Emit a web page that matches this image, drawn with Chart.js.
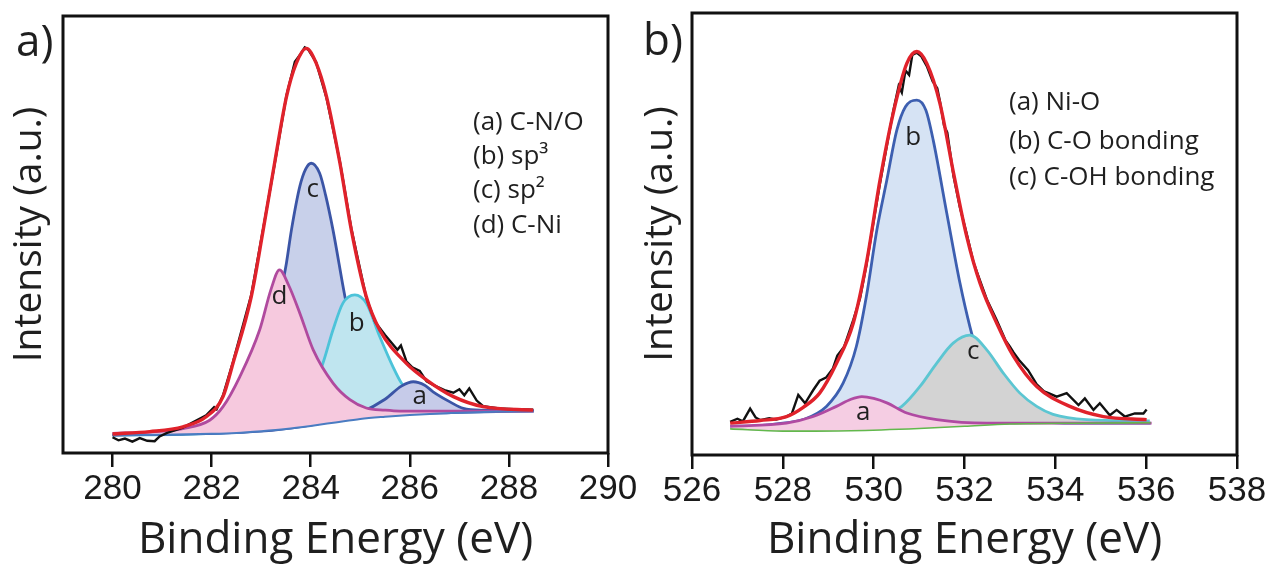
<!DOCTYPE html>
<html>
<head>
<meta charset="utf-8">
<title>XPS C 1s / O 1s</title>
<script src="https://cdn.jsdelivr.net/npm/chart.js@4.4.1/dist/chart.umd.min.js"></script>
<style>
  html, body { margin: 0; padding: 0; background: #fff; }
  #wrap { position: relative; width: 1271px; height: 566px; overflow: hidden; }
  canvas { position: absolute; top: 0; }
  #chartC { left: 0; }
  #chartO { left: 640px; }
</style>
</head>
<body>
<div id="wrap">
  <canvas id="chartC" width="640" height="566"></canvas>
  <canvas id="chartO" width="631" height="566"></canvas>
</div>
<script>
'use strict';

// ---- C 1s (panel a) ----  [binding energy eV, intensity a.u.]
const c1sTicks = [280, 282, 284, 286, 288, 290];
const c1sBackground = [[280.0, 4.1], [281.0, 4.2], [282.0, 4.4], [282.5, 4.6], [283.0, 5.0], [283.5, 5.5],
  [284.0, 6.2], [284.5, 7.0], [285.0, 7.8], [285.5, 8.3], [286.0, 8.7], [286.5, 9.0], [287.0, 9.2],
  [287.5, 9.4], [288.0, 9.5], [288.5, 9.6]];
// (a) C-N/O
const c1sPeakA = [[280.0, 4.1], [283.0, 5.0], [284.0, 6.4], [284.5, 7.5], [285.0, 9.2], [285.5, 12.3],
  [285.83, 15.3], [286.07, 16.3], [286.3, 15.5], [286.47, 14.0], [286.81, 11.7], [287.08, 10.2],
  [287.48, 9.8], [288.5, 9.7]];
// (b) sp3
const c1sPeakB = [[280.0, 4.1], [282.0, 4.5], [283.0, 5.8], [283.5, 8.5], [283.75, 11.0], [284.0, 15.0],
  [284.22, 19.7], [284.45, 28.2], [284.65, 34.3], [284.89, 36.2], [285.12, 34.3], [285.39, 26.7],
  [285.66, 19.7], [285.83, 16.0], [286.14, 12.2], [286.47, 10.6], [287.15, 9.8], [288.5, 9.6]];
// (c) sp2
const c1sPeakC = [[280.0, 4.2], [281.0, 4.3], [282.0, 5.2], [282.5, 8.0], [282.75, 11.5], [283.0, 17.0],
  [283.25, 29.0], [283.4, 37.0], [283.51, 43.5], [283.61, 51.0], [283.78, 61.0], [283.9, 65.0],
  [284.01, 66.3], [284.18, 64.0], [284.3, 59.0], [284.45, 51.0], [284.69, 35.8], [285.0, 19.0],
  [285.3, 12.5], [285.6, 9.8], [286.0, 9.0], [287.0, 9.3], [288.5, 9.6]];
// (d) C-Ni
const c1sPeakD = [[280.0, 4.5], [280.75, 4.8], [281.42, 5.6], [281.96, 7.5], [282.23, 10.6], [282.57, 17.5],
  [282.97, 28.2], [283.2, 37.5], [283.37, 41.9], [283.55, 38.5], [283.78, 32.0], [284.05, 23.6],
  [284.45, 16.0], [284.79, 12.2], [285.12, 10.3], [285.5, 9.8], [285.8, 9.6], [286.5, 9.6],
  [287.5, 9.6], [288.5, 9.6]];
const c1sEnvelope = [[280.0, 4.35], [280.75, 4.9], [281.42, 6.0], [281.89, 8.3], [282.23, 12.9], [282.43, 20.5],
  [282.8, 35.8], [283.04, 51.0], [283.27, 66.3], [283.51, 81.5], [283.71, 89.2], [283.91, 92.6],
  [284.11, 89.2], [284.32, 81.5], [284.59, 66.3], [284.82, 51.0], [285.12, 35.8], [285.39, 28.2],
  [285.93, 20.5], [286.34, 16.7], [286.88, 12.9], [287.48, 10.6], [288.49, 9.8]];
const c1sMeasured = [[280.0, 3.6], [280.12, 2.9], [280.25, 3.3], [280.4, 2.6], [280.55, 3.4], [280.7, 2.8],
  [280.85, 2.7], [280.95, 3.8], [281.1, 4.6], [281.42, 5.8], [281.89, 8.6], [282.05, 10.5], [282.1, 10.0],
  [282.23, 13.2], [282.43, 20.8], [282.8, 36.2], [283.04, 51.3], [283.27, 66.0], [283.51, 81.8],
  [283.68, 89.5], [283.8, 91.4], [283.88, 92.8], [283.95, 92.3], [284.11, 89.4], [284.32, 81.2],
  [284.59, 66.6], [284.82, 51.3], [285.12, 35.6], [285.3, 30.0], [285.5, 27.0], [285.75, 23.6],
  [285.82, 24.6], [285.93, 21.0], [286.05, 19.6], [286.2, 18.8], [286.34, 16.4], [286.5, 15.4],
  [286.7, 14.4], [286.88, 13.8], [287.0, 14.6], [287.1, 13.2], [287.2, 14.8], [287.35, 12.0],
  [287.48, 10.7], [287.8, 10.2], [288.1, 10.0], [288.49, 9.9]];
const c1sLegend = ['(a) C-N/O', '(b) sp\u00b3', '(c) sp\u00b2', '(d) C-Ni'];

// ---- O 1s (panel b) ----
const o1sTicks = [526, 528, 530, 532, 534, 536, 538];
const o1sBackground = [[526.84, 5.9], [528.0, 5.4], [529.5, 5.5], [531.0, 6.0], [532.0, 6.5], [533.0, 7.0],
  [534.5, 7.2], [536.1, 7.3]];
// (a) Ni-O
const o1sPeakA = [[526.84, 6.5], [528.08, 7.2], [528.67, 8.7], [529.18, 11.0], [529.5, 12.6], [529.74, 13.2],
  [530.0, 12.8], [530.29, 11.8], [530.73, 9.5], [531.39, 8.0], [532.49, 7.2], [536.12, 7.2]];
// (b) C-O bonding
const o1sPeakB = [[526.84, 6.3], [527.35, 6.5], [528.0, 7.2], [528.45, 8.0], [528.96, 11.0], [529.33, 16.3],
  [529.62, 24.6], [529.84, 35.9], [530.07, 50.9], [530.29, 62.2], [530.51, 73.5], [530.7, 78.8],
  [530.95, 80.3], [531.15, 78.0], [531.31, 71.3], [531.61, 54.7], [531.9, 38.9], [532.12, 29.0],
  [532.4, 19.0], [532.7, 12.0], [533.0, 9.0], [533.5, 7.6], [534.5, 7.2], [536.1, 7.2]];
// (c) C-OH bonding
const o1sPeakC = [[526.84, 6.5], [528.0, 6.6], [529.5, 7.3], [530.2, 9.0], [530.62, 11.0], [531.02, 15.5],
  [531.39, 20.8], [531.75, 25.3], [532.12, 27.1], [532.49, 23.8], [532.85, 18.6], [533.22, 14.0],
  [533.59, 11.0], [533.95, 9.2], [534.69, 8.0], [536.08, 7.7]];
const o1sEnvelope = [[526.84, 7.2], [527.5, 7.8], [528.08, 8.7], [528.45, 10.8], [528.81, 14.0], [529.18, 20.7],
  [529.55, 29.8], [529.84, 43.4], [530.14, 62.2], [530.43, 77.3], [530.73, 88.6], [530.95, 91.3],
  [531.17, 88.6], [531.46, 79.5], [531.76, 63.7], [532.05, 49.4], [532.34, 38.9], [532.71, 29.8],
  [533.08, 22.3], [533.59, 15.5], [534.32, 11.0], [535.06, 8.7], [536.01, 8.0]];
const o1sMeasured = [[526.84, 7.5], [527.0, 8.2], [527.12, 7.6], [527.28, 10.5], [527.4, 8.5], [527.5, 7.9],
  [527.7, 8.3], [527.85, 8.0], [528.08, 8.7], [528.2, 9.4], [528.34, 13.6], [528.49, 11.7], [528.67, 14.7],
  [528.81, 16.8], [528.95, 17.5], [529.1, 19.5], [529.2, 22.5], [529.35, 24.5], [529.55, 30.5],
  [529.7, 35.5], [529.84, 43.0], [530.0, 53.0], [530.14, 61.5], [530.3, 70.5], [530.43, 77.8],
  [530.55, 83.5], [530.62, 82.0], [530.7, 87.0], [530.78, 86.0], [530.85, 90.5], [530.95, 91.0],
  [531.05, 90.2], [531.17, 88.0], [531.3, 84.5], [531.4, 83.0], [531.46, 80.0], [531.55, 74.5],
  [531.62, 73.0], [531.76, 63.0], [531.9, 56.0], [532.05, 50.0], [532.2, 43.5], [532.34, 39.5],
  [532.5, 35.0], [532.71, 30.5], [532.9, 26.0], [533.0, 24.5], [533.08, 23.2], [533.2, 21.5],
  [533.4, 19.2], [533.59, 16.0], [533.75, 14.4], [533.85, 14.0], [534.03, 13.2], [534.25, 14.0],
  [534.51, 11.3], [534.65, 12.8], [534.84, 10.2], [534.98, 11.7], [535.2, 9.0], [535.35, 10.2],
  [535.53, 8.7], [535.75, 9.4], [535.94, 9.4], [536.01, 10.3]];
const o1sLegend = ['(a) Ni-O', '(b) C-O bonding', '(c) C-OH bonding'];

const TEXT = '#1f1f1f';
const SANS = '"Open Sans", "Noto Sans", sans-serif';

function pts(pairs) {
  return pairs.map(p => ({ x: p[0], y: p[1] }));
}

// smooth fitted component, filled down to the background (dataset 0)
function component(pairs, line, fill, order) {
  return {
    data: pts(pairs), borderColor: line, borderWidth: 2.8, backgroundColor: fill,
    fill: { target: 0 }, cubicInterpolationMode: 'monotone', pointRadius: 0, order: order
  };
}

function background(pairs, line, width) {
  return {
    data: pts(pairs), borderColor: line, borderWidth: width, fill: false,
    cubicInterpolationMode: 'monotone', pointRadius: 0, order: 2
  };
}

function envelope(pairs) {
  return {
    data: pts(pairs), borderColor: '#e0222b', borderWidth: 3.4, fill: false,
    cubicInterpolationMode: 'monotone', pointRadius: 0, order: 0
  };
}

function measured(pairs) {
  return {
    data: pts(pairs), borderColor: '#111', borderWidth: 2.4, fill: false,
    tension: 0, pointRadius: 0, order: 1
  };
}

// frame, panel letter, legend text and peak letters
const notes = {
  id: 'notes',
  afterDraw(chart, args, o) {
    const ctx = chart.ctx, a = chart.chartArea;
    const x = chart.scales.x, y = chart.scales.y;
    ctx.save();
    ctx.strokeStyle = '#111';
    ctx.lineWidth = 3;
    ctx.strokeRect(a.left, a.top, a.right - a.left, a.bottom - a.top);

    ctx.fillStyle = TEXT;
    ctx.textBaseline = 'alphabetic';
    ctx.textAlign = 'left';
    ctx.font = '44px ' + SANS;
    ctx.fillText(o.panel, o.panelX, o.panelY);

    ctx.textBaseline = 'middle';
    ctx.font = '26px ' + SANS;
    o.legend.forEach((t, i) => ctx.fillText(t, o.legendX, o.legendY[i]));

    ctx.textAlign = 'center';
    ctx.font = '26px ' + SANS;
    o.peaks.forEach(p => ctx.fillText(p.t, x.getPixelForValue(p.e), y.getPixelForValue(p.i)));
    ctx.restore();
  }
};

function makeChart(id, datasets, range, ticks, yWidth, xHeight, padRight, padTop, yTitlePad, notesOpts) {
  return new Chart(document.getElementById(id), {
    type: 'line',
    data: { datasets: datasets },
    plugins: [notes],
    options: {
      responsive: false,
      animation: false,
      layout: { padding: { left: 0, right: padRight, top: padTop, bottom: 0 } },
      plugins: { legend: { display: false }, tooltip: { enabled: false }, notes: notesOpts },
      scales: {
        x: {
          type: 'linear', min: range[0], max: range[1],
          afterBuildTicks: s => { s.ticks = ticks.map(v => ({ value: v })); },
          afterFit: s => { s.height = xHeight; },
          grid: { drawOnChartArea: false, drawTicks: true, tickLength: 14, lineWidth: 2.5, color: '#111' },
          border: { display: false },
          ticks: { font: { family: '"Liberation Sans", Arial, sans-serif', size: 35 }, color: '#1a1a1a', padding: 1, maxRotation: 0 },
          title: { display: true, text: 'Binding Energy (eV)', color: TEXT,
                   font: { family: SANS, size: 44, lineHeight: 1 }, padding: { top: 0, bottom: 4 } }
        },
        y: {
          min: 0, max: 100,
          afterFit: s => { s.width = yWidth; },
          grid: { display: false },
          border: { display: false },
          ticks: { display: false },
          title: { display: true, text: 'Intensity (a.u.)', color: TEXT,
                   font: { family: SANS, size: 39, lineHeight: 1 }, padding: { top: yTitlePad, bottom: 0 } }
        }
      }
    }
  });
}

makeChart('chartC', [
  background(c1sBackground, '#4a7cc2', 2),
  component(c1sPeakD, '#b04a9e', '#f6c9de', 3),
  component(c1sPeakA, '#3b55a6', '#c6cbe9', 4),
  component(c1sPeakB, '#4cc3d9', '#bfe5ef', 5),
  component(c1sPeakC, '#3b55a6', '#c8d0ea', 6),
  envelope(c1sEnvelope),
  measured(c1sMeasured)
], [279, 290], c1sTicks, 63, 113, 32, 16, 10, {
  panel: 'a)', panelX: 16, panelY: 56,
  legend: c1sLegend, legendX: 473, legendY: [123, 157, 191, 226],
  peaks: [{ t: 'c', e: 284.04, i: 60.2 }, { t: 'd', e: 283.37, i: 35.7 },
          { t: 'b', e: 284.93, i: 29.7 }, { t: 'a', e: 286.2, i: 12.8 }]
});

makeChart('chartO', [
  background(o1sBackground, '#62b84c', 1.6),
  component(o1sPeakA, '#b04aa2', '#f5cde3', 3),
  component(o1sPeakC, '#5cc6d2', '#d3d3d3', 4),
  component(o1sPeakB, '#3d5fb0', '#d6e3f4', 5),
  envelope(o1sEnvelope),
  measured(o1sMeasured)
], [526, 538], o1sTicks, 52, 111, 34, 13, 1, {
  panel: 'b)', panelX: 3, panelY: 55,
  legend: o1sLegend, legendX: 369, legendY: [103, 142, 178],
  peaks: [{ t: 'b', e: 530.87, i: 71.9 }, { t: 'c', e: 532.19, i: 23.3 }, { t: 'a', e: 529.77, i: 9.5 }]
});
</script>
</body>
</html>
